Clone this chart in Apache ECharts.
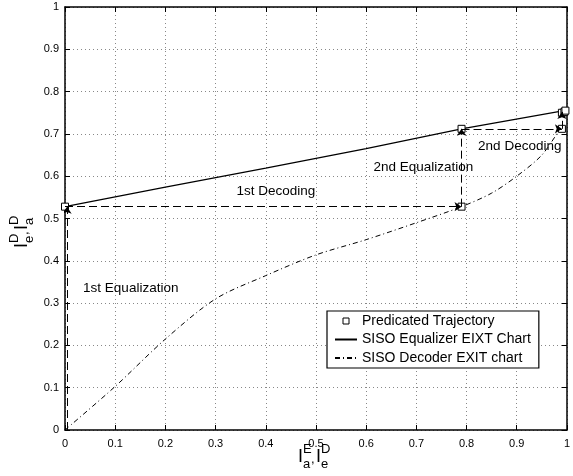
<!DOCTYPE html>
<html>
<head>
    <meta charset="utf-8">
    <title>EXIT chart</title>
    <style>
        html,body,#myCanvas{
            height: 100%;
            width: 100%;
            padding: 0;
            margin: 0;
            background: #fff;
        }
    </style>
</head>
<body>
    <div id="myCanvas"></div>
    <script src="https://cdn.jsdelivr.net/npm/echarts@6/dist/echarts.min.js"></script>
    <script>
        // SISO equalizer EXIT curve (solid)
        let eqX = [0, 0.2, 0.4, 0.6, 0.79, 1]
        let eqY = [0.528, 0.574, 0.619, 0.665, 0.712, 0.756]

        // SISO decoder EXIT curve (dash-dot)
        let decX = [0, 0.1, 0.2, 0.3, 0.4, 0.5, 0.6, 0.7, 0.79, 0.85, 0.9, 0.95, 0.985]
        let decY = [0, 0.103, 0.215, 0.31, 0.365, 0.414, 0.45, 0.49, 0.528, 0.56, 0.6, 0.65, 0.71]

        // predicted trajectory squares
        let trajX = [0, 0.79, 0.79, 0.99, 0.99, 0.995, 0.997]
        let trajY = [0.528, 0.528, 0.712, 0.712, 0.75, 0.752, 0.755]

        // trajectory steps (dashed with arrow head): [x1, y1, x2, y2]
        let steps = [
            [0.004, 0, 0.004, 0.528],
            [0, 0.528, 0.79, 0.528],
            [0.79, 0.528, 0.79, 0.712],
            [0.79, 0.712, 0.99, 0.712],
            [0.99, 0.712, 0.99, 0.752]
        ]

        // annotation texts
        let noteText = ['1st Equalization', '1st Decoding', '2nd Equalization', '2nd Decoding']
        let noteX = [0.131, 0.42, 0.714, 0.906]
        let noteY = [0.336, 0.564, 0.621, 0.67]

        let names = ['Predicated Trajectory', 'SISO Equalizer EIXT Chart', 'SISO Decoder EXIT chart']

        let font = 'Liberation Sans, Arial, Helvetica, sans-serif'

        function zip(a, b){
            return a.map(function(v, i){ return [v, b[i]] })
        }

        // I^sup_sub , I^sup_sub  built from plain text pieces
        function titleParts(s1, b1, s2, b2){
            let big = {font: '18px ' + font, fill: '#000', verticalAlign: 'middle', align: 'left'}
            let small = {font: '13px ' + font, fill: '#000', verticalAlign: 'middle', align: 'left'}
            function t(txt, x, y, st){
                return {type: 'text', x: x, y: y, style: Object.assign({text: txt}, st)}
            }
            return [
                t('I', 0, 0, big),
                t(s1, 5, -8, small),
                t(b1, 5, 7, small),
                t(',', 13, 2, small),
                t('I', 18, 0, big),
                t(s2, 23, -8, small),
                t(b2, 23, 7, small)
            ]
        }

        let $parent = document.getElementById('myCanvas')
        let myChart = echarts.init($parent);

        let axisCommon = {
            type: 'value',
            min: 0,
            max: 1,
            interval: 0.1,
            axisLine: {show: true, onZero: false, lineStyle: {color: '#000', width: 1.5}},
            axisTick: {show: true, inside: true, length: 5, lineStyle: {color: '#000', width: 1}}
        }

        // small hollow square centred in the legend icon box
        let squareIcon = 'path://M0,0L0,0M22,12L22,12M8,3L14,3L14,9L8,9Z'

        let option = {
            animation: false,
            backgroundColor: '#fff',
            grid: {left: 65, right: 4, top: 7, bottom: 46},
            xAxis: [
                Object.assign({}, axisCommon, {
                    position: 'bottom',
                    axisLabel: {color: '#000', fontSize: 11, fontFamily: font, margin: 8},
                    splitLine: {show: true, lineStyle: {color: '#888', type: [1, 3], width: 1}}
                }),
                Object.assign({}, axisCommon, {
                    position: 'top',
                    axisLabel: {show: false},
                    splitLine: {show: false}
                })
            ],
            yAxis: [
                Object.assign({}, axisCommon, {
                    position: 'left',
                    axisLabel: {color: '#000', fontSize: 11, fontFamily: font, margin: 6},
                    splitLine: {show: true, lineStyle: {color: '#888', type: [1, 3], width: 1}}
                }),
                Object.assign({}, axisCommon, {
                    position: 'right',
                    axisLabel: {show: false},
                    splitLine: {show: false}
                })
            ],
            legend: {
                data: [
                    {name: names[0], icon: squareIcon, itemStyle: {color: '#fff', borderColor: '#000', borderWidth: 1}},
                    {name: names[1], itemStyle: {opacity: 0}},
                    {name: names[2], itemStyle: {opacity: 0}}
                ],
                orient: 'vertical',
                left: 327,
                top: 311,
                padding: [3, 8, 3, 7],
                itemWidth: 22,
                itemHeight: 12,
                itemGap: 4.5,
                borderColor: '#000',
                borderWidth: 1.2,
                backgroundColor: '#fff',
                textStyle: {color: '#000', fontSize: 14, fontFamily: font}
            },
            graphic: [
                {type: 'group', x: 298, y: 457, children: titleParts('E', 'a', 'D', 'e')},
                {type: 'group', x: 22, y: 248, rotation: Math.PI / 2, children: titleParts('D', 'e', 'D', 'a')}
            ],
            series: [
                {
                    name: names[1],
                    type: 'line',
                    data: zip(eqX, eqY),
                    symbol: 'none',
                    lineStyle: {color: '#000', width: 1.2, type: 'solid'},
                    itemStyle: {color: '#000'},
                    z: 3
                },
                {
                    name: names[2],
                    type: 'line',
                    data: zip(decX, decY),
                    smooth: 0.3,
                    symbol: 'none',
                    lineStyle: {color: '#000', width: 1, type: [5, 3, 1, 3]},
                    itemStyle: {color: '#000'},
                    z: 3
                },
                {
                    type: 'lines',
                    coordinateSystem: 'cartesian2d',
                    data: steps.map(function(s){ return {coords: [[s[0], s[1]], [s[2], s[3]]]} }),
                    symbol: ['none', 'arrow'],
                    symbolSize: 7,
                    lineStyle: {color: '#000', width: 1, type: [8, 4], opacity: 1},
                    z: 5
                },
                {
                    name: names[0],
                    type: 'scatter',
                    data: zip(trajX, trajY),
                    symbol: 'rect',
                    symbolSize: 7,
                    itemStyle: {color: '#fff', borderColor: '#000', borderWidth: 1, opacity: 1},
                    z: 4
                },
                {
                    type: 'scatter',
                    data: noteText.map(function(t, i){ return {value: [noteX[i], noteY[i]], name: t} }),
                    symbol: 'circle',
                    symbolSize: 2,
                    itemStyle: {color: 'rgba(0,0,0,0)'},
                    silent: true,
                    label: {
                        show: true,
                        position: 'inside',
                        formatter: function(p){ return p.name },
                        color: '#000',
                        opacity: 1,
                        textBorderWidth: 0,
                        fontSize: 13.5,
                        fontFamily: font
                    },
                    labelLayout: {hideOverlap: false},
                    z: 6
                }
            ]
        };

        myChart.setOption(option);
    </script>
</body>
</html>
